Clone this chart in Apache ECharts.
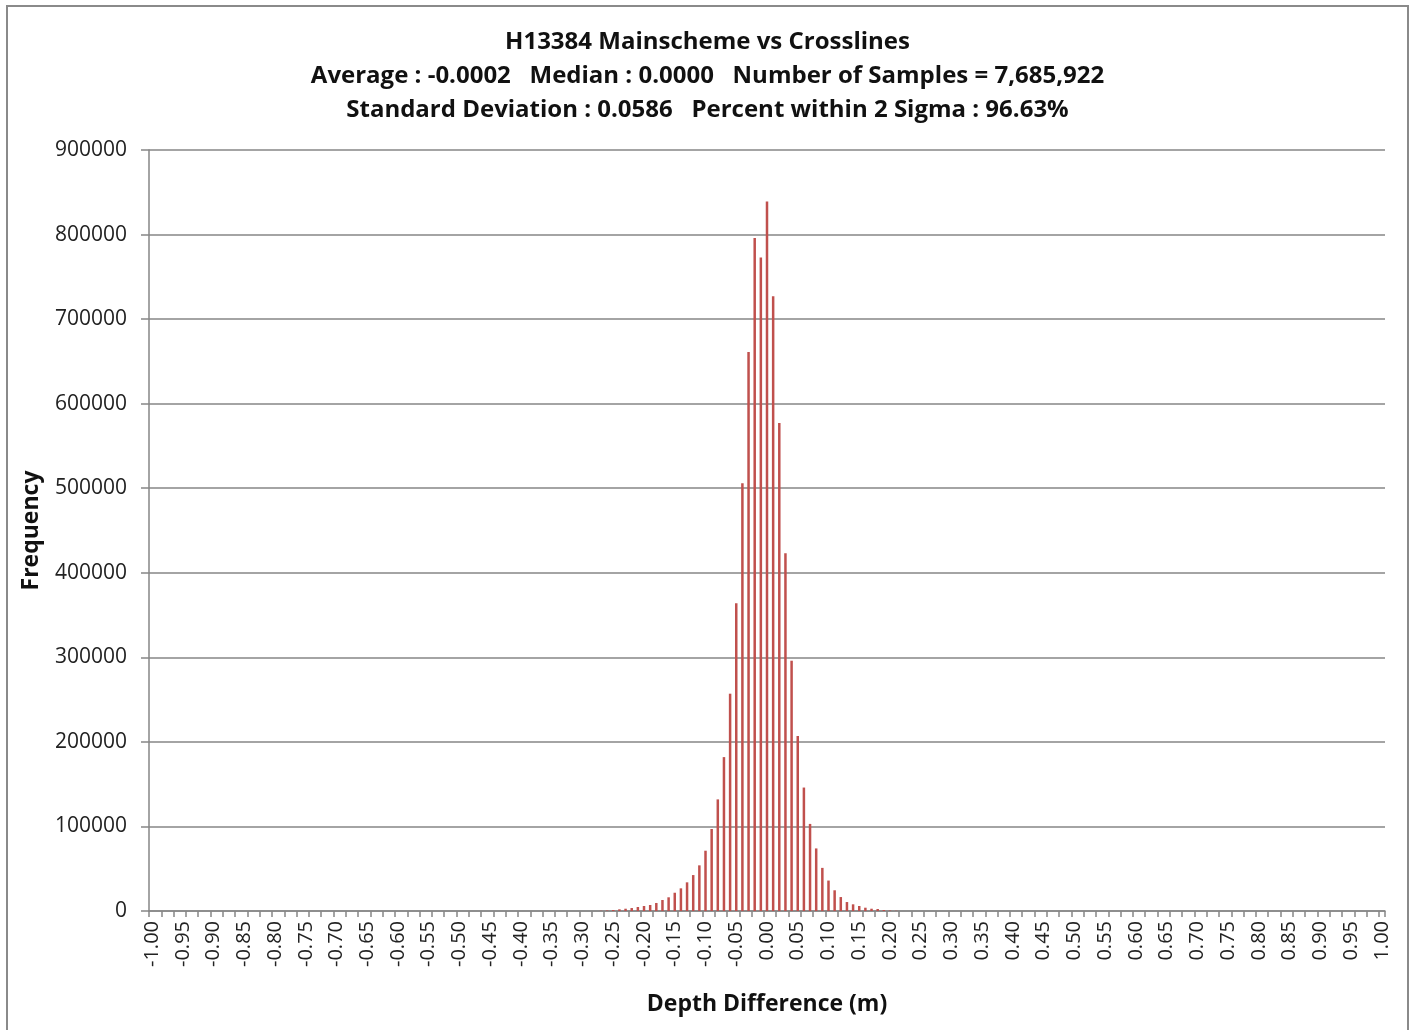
<!DOCTYPE html>
<html>
<head>
<meta charset="utf-8">
<title>H13384 Mainscheme vs Crosslines</title>
<script src="https://cdn.jsdelivr.net/npm/echarts@6/dist/echarts.min.js"></script>
<style>
  html, body { margin: 0; padding: 0; background: #fff; }
  #chart { width: 1415px; height: 1030px; }
</style>
</head>
<body>
<div id="chart"></div>
<script>
// bins: -1.00 .. 1.00 in steps of 0.01
const categories = [];
for (let i = -100; i <= 100; i++) {
  categories.push((i / 100).toFixed(2));
}

const titleLines = [
  "H13384 Mainscheme vs Crosslines",
  "Average : -0.0002   Median : 0.0000   Number of Samples = 7,685,922",
  "Standard Deviation : 0.0586   Percent within 2 Sigma : 96.63%"
];

const yTicks = [0, 100000, 200000, 300000, 400000, 500000, 600000, 700000, 800000, 900000];

// frequency per bin (10 bins per row)
const frequency = [
  0, 0, 0, 0, 0, 0, 0, 0, 0, 0,              // -1.00 .. -0.91
  0, 0, 0, 0, 0, 0, 0, 0, 0, 0,              // -0.90 .. -0.81
  0, 0, 0, 0, 0, 0, 0, 0, 0, 0,              // -0.80 .. -0.71
  0, 0, 0, 0, 0, 0, 0, 0, 0, 0,              // -0.70 .. -0.61
  0, 0, 0, 0, 0, 0, 0, 0, 0, 0,              // -0.60 .. -0.51
  0, 0, 0, 0, 0, 0, 0, 0, 0, 0,              // -0.50 .. -0.41
  0, 0, 0, 0, 0, 0, 0, 0, 0, 0,              // -0.40 .. -0.31
  0, 0, 0, 300, 600, 1200, 2000, 2700, 3500, 4700,                       // -0.30 .. -0.21
  5900, 7100, 9500, 13000, 16200, 21600, 26800, 33900, 42500, 54000,    // -0.20 .. -0.11
  71300, 97000, 132000, 182000, 257000, 364000, 506000, 661000, 796000, 773000, // -0.10 .. -0.01
  839000, 727000, 577000, 423000, 296000, 207000, 146000, 103000, 74000, 51000, // 0.00 .. 0.09
  36000, 24500, 16500, 10600, 7900, 5900, 3900, 2700, 2400, 1200,       // 0.10 .. 0.19
  600, 300, 0, 0, 0, 0, 0, 0, 0, 0,          // 0.20 .. 0.29
  0, 0, 0, 0, 0, 0, 0, 0, 0, 0,              // 0.30 .. 0.39
  0, 0, 0, 0, 0, 0, 0, 0, 0, 0,              // 0.40 .. 0.49
  0, 0, 0, 0, 0, 0, 0, 0, 0, 0,              // 0.50 .. 0.59
  0, 0, 0, 0, 0, 0, 0, 0, 0, 0,              // 0.60 .. 0.69
  0, 0, 0, 0, 0, 0, 0, 0, 0, 0,              // 0.70 .. 0.79
  0, 0, 0, 0, 0, 0, 0, 0, 0, 0,              // 0.80 .. 0.89
  0, 0, 0, 0, 0, 0, 0, 0, 0, 0,              // 0.90 .. 0.99
  0                                          // 1.00
];

const FONT = "'Open Sans', 'Noto Sans', sans-serif";
const AXIS_GREY = "#868686";

const chart = echarts.init(document.getElementById("chart"), null, { renderer: "canvas" });

chart.setOption({
  animation: false,
  backgroundColor: "#fff",
  textStyle: { fontFamily: FONT },
  title: {
    text: titleLines.join("\n"),
    left: "center",
    top: 20,
    textStyle: {
      fontFamily: FONT,
      fontSize: 24,
      fontWeight: "bold",
      color: "#111",
      lineHeight: 34
    }
  },
  graphic: [{
    type: "rect",
    shape: { x: 7, y: 6, width: 1401, height: 1040 },
    style: { fill: null, stroke: "#8a8a8a", lineWidth: 2 },
    silent: true
  }],
  grid: {
    left: 149,
    right: 30,
    top: 150,
    bottom: 119,
    containLabel: false
  },
  xAxis: {
    type: "category",
    data: categories,
    name: "Depth Difference (m)",
    nameLocation: "middle",
    nameGap: 82,
    nameTextStyle: { fontFamily: FONT, fontSize: 23, fontWeight: "bold", color: "#111" },
    axisLine: { lineStyle: { color: AXIS_GREY, width: 1.5 } },
    axisTick: { show: true, interval: 1, length: 6, lineStyle: { color: AXIS_GREY, width: 1.5 } },
    axisLabel: {
      interval: 4,
      rotate: 90,
      margin: 10,
      fontFamily: FONT,
      fontSize: 20,
      color: "#222"
    },
    splitLine: { show: false }
  },
  yAxis: {
    type: "value",
    min: yTicks[0],
    max: yTicks[yTicks.length - 1],
    interval: yTicks[1] - yTicks[0],
    name: "Frequency",
    nameLocation: "middle",
    nameGap: 106,
    nameTextStyle: { fontFamily: FONT, fontSize: 23, fontWeight: "bold", color: "#111" },
    axisLine: { show: true, lineStyle: { color: AXIS_GREY, width: 1.5 } },
    axisTick: { show: true, length: 8, lineStyle: { color: AXIS_GREY, width: 1.5 } },
    axisLabel: {
      margin: 22,
      fontFamily: FONT,
      fontSize: 21,
      color: "#222",
      formatter: function (v) { return String(v); }
    },
    splitLine: { show: true, lineStyle: { color: AXIS_GREY, width: 1.5 } }
  },
  series: [{
    name: "Frequency",
    type: "bar",
    data: frequency,
    barWidth: 2.5,
    itemStyle: { color: "#C0504D" }
  }]
});
</script>
</body>
</html>
